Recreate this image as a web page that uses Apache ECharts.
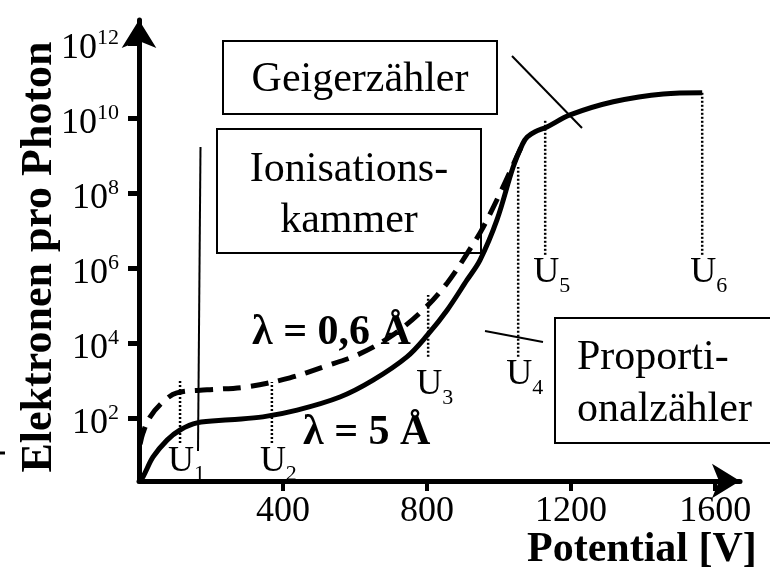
<!DOCTYPE html>
<html>
<head>
<meta charset="utf-8">
<script src="https://cdn.jsdelivr.net/npm/echarts@6/dist/echarts.min.js"></script>
<style>
  html, body { margin: 0; padding: 0; background: #fff; }
  #chart { width: 770px; height: 568px; }
</style>
</head>
<body>
<div id="chart"></div>
<script>
  // Potential [V] and log10(Elektronen pro Photon)
  var solidX   = [0, 11, 39, 78, 114, 161, 253, 344, 439, 558, 650, 744, 800, 856, 911, 947, 994, 1039, 1065, 1078, 1100, 1133, 1197, 1317, 1456, 1564];
  var solidLog = [0.32, 0.43, 0.96, 1.41, 1.68, 1.87, 1.95, 2.03, 2.21, 2.56, 3.01, 3.63, 4.2, 4.88, 5.68, 6.21, 7.28, 8.69, 9.3, 9.49, 9.63, 9.76, 10.08, 10.43, 10.64, 10.67];

  var dashedX   = [3, 11, 31, 67, 105, 189, 300, 419, 511, 606, 697, 789, 856, 919, 956, 1011, 1058, 1075];
  var dashedLog = [1.3, 1.6, 2.03, 2.43, 2.67, 2.75, 2.83, 3.07, 3.36, 3.68, 4.16, 4.88, 5.6, 6.5, 7.09, 8.16, 9.15, 9.45];

  var uNames  = ['1', '2', '3', '4', '5', '6'];
  var uX      = [114, 369, 803, 1053, 1128, 1564];
  var uTop    = [3.01, 2.96, 5.28, 8.69, 9.95, 10.67];
  var uBottom = [1.33, 1.33, 3.63, 3.63, 6.35, 6.35];

  var xTicks = [400, 800, 1200, 1600];
  var yTicks = [2, 4, 6, 8, 10, 12];

  var serif = 'Liberation Serif';

  function pairs(xs, ys) {
    var out = [];
    for (var i = 0; i < xs.length; i++) out.push([xs[i], ys[i]]);
    return out;
  }

  var series = [
    {
      name: 'λ = 5 Å',
      type: 'line',
      data: pairs(solidX, solidLog),
      smooth: 0.35,
      showSymbol: false,
      lineStyle: { color: '#000', width: 5 },
      z: 5
    },
    {
      name: 'λ = 0,6 Å',
      type: 'line',
      data: pairs(dashedX, dashedLog),
      smooth: 0.35,
      showSymbol: false,
      lineStyle: { color: '#000', width: 5, type: [18, 10] },
      z: 4
    }
  ];

  // dotted markers U1..U6
  uX.forEach(function (x, i) {
    series.push({
      type: 'line',
      data: [[x, uBottom[i]], [x, uTop[i]]],
      showSymbol: false,
      lineStyle: { color: '#000', width: 2.5, type: [2, 2] },
      z: 3
    });
  });

  series.push({
    type: 'scatter',
    symbolSize: 0,
    itemStyle: { opacity: 1, color: '#000' },
    data: uX.map(function (x, i) {
      return {
        value: [x, uBottom[i]],
        label: { offset: [-12, i === 2 ? 10 : 0] }
      };
    }),
    label: {
      show: true,
      position: 'bottom',
      distance: 0,
      align: 'left',
      color: '#000',
      formatter: function (p) {
        return '{u|U}{d|' + uNames[p.dataIndex] + '}';
      },
      rich: {
        u: { fontFamily: serif, fontSize: 36, color: '#000', padding: [0, 0, 6, 0] },
        d: { fontFamily: serif, fontSize: 22, color: '#000', verticalAlign: 'bottom' }
      }
    },
    z: 6
  });

  var chart = echarts.init(document.getElementById('chart'));

  chart.setOption({
    animation: false,
    backgroundColor: '#fff',
    grid: { left: 139, right: 30, top: 20, bottom: 87, containLabel: false, outerBoundsMode: 'none' },
    xAxis: {
      type: 'value',
      min: 0,
      max: 1669,
      name: 'Potential [V]',
      nameLocation: 'end',
      nameGap: -213,
      nameMoveOverlap: false,
      nameTextStyle: {
        fontFamily: serif, fontSize: 42, fontWeight: 'bold', color: '#000',
        align: 'left', verticalAlign: 'top', padding: [48, 0, 0, 0]
      },
      axisLine: {
        lineStyle: { color: '#000', width: 5 },
        symbol: ['none', 'arrow'],
        symbolSize: [26, 28]
      },
      axisTick: { customValues: xTicks, length: 10, lineStyle: { color: '#000', width: 4 } },
      axisLabel: {
        customValues: xTicks,
        formatter: function (v) { return String(v); },
        fontFamily: serif, fontSize: 36, color: '#000', margin: 13
      },
      splitLine: { show: false }
    },
    yAxis: {
      type: 'value',
      min: 0.32,
      max: 12.61,
      name: 'Elektronen pro Photon',
      nameLocation: 'middle',
      nameRotate: 90,
      nameGap: 77,
      nameMoveOverlap: false,
      nameTextStyle: {
        fontFamily: serif, fontSize: 44, fontWeight: 'bold', color: '#000',
        padding: [0, 13, 0, 0]
      },
      axisLine: {
        lineStyle: { color: '#000', width: 5 },
        symbol: ['none', 'arrow'],
        symbolSize: [26, 28]
      },
      axisTick: { customValues: yTicks, length: 11, lineStyle: { color: '#000', width: 5 } },
      axisLabel: {
        customValues: yTicks,
        margin: 20,
        formatter: function (v) { return '{b|10}{s|' + v + '}'; },
        rich: {
          b: { fontFamily: serif, fontSize: 36, color: '#000', padding: [11, 0, 0, 0] },
          s: { fontFamily: serif, fontSize: 22, color: '#000', verticalAlign: 'top', padding: [8, 0, 0, 0] }
        }
      },
      splitLine: { show: false }
    },
    graphic: [
      // Geigerzähler
      { type: 'rect', shape: { x: 223, y: 41, width: 274, height: 73 },
        style: { fill: '#fff', stroke: '#000', lineWidth: 2 } },
      { type: 'text', x: 360, y: 80,
        style: { text: 'Geigerzähler', fontFamily: serif, fontSize: 42, fill: '#000',
                 align: 'center', verticalAlign: 'middle', textAlign: 'center', textVerticalAlign: 'middle' } },
      { type: 'line', shape: { x1: 512, y1: 56, x2: 582, y2: 128 },
        style: { stroke: '#000', lineWidth: 2 } },
      // Ionisationskammer
      { type: 'rect', shape: { x: 217, y: 129, width: 264, height: 124 },
        style: { fill: '#fff', stroke: '#000', lineWidth: 2 } },
      { type: 'text', x: 349, y: 170,
        style: { text: 'Ionisations-', fontFamily: serif, fontSize: 42, fill: '#000',
                 align: 'center', verticalAlign: 'middle', textAlign: 'center', textVerticalAlign: 'middle' } },
      { type: 'text', x: 349, y: 221,
        style: { text: 'kammer', fontFamily: serif, fontSize: 42, fill: '#000',
                 align: 'center', verticalAlign: 'middle', textAlign: 'center', textVerticalAlign: 'middle' } },
      { type: 'line', shape: { x1: 200.5, y1: 147, x2: 198, y2: 451 },
        style: { stroke: '#000', lineWidth: 2 } },
      // Proportionalzähler
      { type: 'rect', shape: { x: 555, y: 318, width: 222, height: 125 },
        style: { fill: '#fff', stroke: '#000', lineWidth: 2 } },
      { type: 'text', x: 577, y: 358,
        style: { text: 'Proporti-', fontFamily: serif, fontSize: 42, fill: '#000',
                 align: 'left', verticalAlign: 'middle', textAlign: 'left', textVerticalAlign: 'middle' } },
      { type: 'text', x: 577, y: 410,
        style: { text: 'onalzähler', fontFamily: serif, fontSize: 42, fill: '#000',
                 align: 'left', verticalAlign: 'middle', textAlign: 'left', textVerticalAlign: 'middle' } },
      { type: 'line', shape: { x1: 485, y1: 331, x2: 543, y2: 342 },
        style: { stroke: '#000', lineWidth: 2 } },
      // curve labels
      { type: 'text', x: 252, y: 333, z: 10,
        style: { text: 'λ = 0,6 Å', fontFamily: serif, fontSize: 42, fontWeight: 'bold', fill: '#000',
                 align: 'left', verticalAlign: 'middle', textAlign: 'left', textVerticalAlign: 'middle' } },
      { type: 'text', x: 303, y: 433, z: 10,
        style: { text: 'λ = 5 Å', fontFamily: serif, fontSize: 42, fontWeight: 'bold', fill: '#000',
                 align: 'left', verticalAlign: 'middle', textAlign: 'left', textVerticalAlign: 'middle' } },
      // small stray mark at the left edge
      { type: 'line', shape: { x1: 0, y1: 453, x2: 5, y2: 453 },
        style: { stroke: '#000', lineWidth: 3 } }
    ],
    series: series
  });
</script>
</body>
</html>
